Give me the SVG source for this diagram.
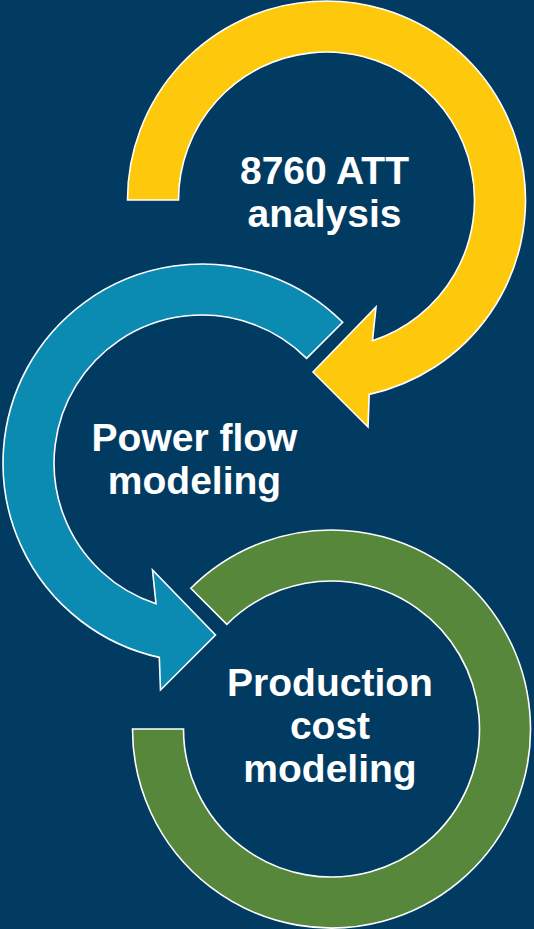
<svg xmlns="http://www.w3.org/2000/svg" width="534" height="929" viewBox="0 0 534 929">
<style>
.arc{stroke:#ffffff;stroke-width:1.6;stroke-linejoin:miter}
.lbl{font-family:"Liberation Sans",Arial,sans-serif;font-weight:bold;font-size:39px;fill:#ffffff;text-anchor:middle}
</style>
<rect width="534" height="929" fill="#023b62"/>
<g id="connectors"></g>
<g id="att">
<path class="arc" fill="#fec90d" d="M127.5 200 A199 199 0 1 1 369.2 394.4 L368 427 L313 372 L376 307 L372.5 340.7 A148 148 0 1 0 178.5 200 Z"/>
<text class="lbl" x="324.5" y="183.5">8760 ATT</text>
<text class="lbl" x="324.5" y="227">analysis</text>
</g>
<g id="powerflow">
<path class="arc" fill="#0b8ab2" d="M342.7 322.3 A199 199 0 1 0 159.3 657.4 L160.5 690 L215.5 635 L152.5 570 L156 603.7 A148 148 0 1 1 306.65 358.35 Z"/>
<text class="lbl" x="194.5" y="451">Power flow</text>
<text class="lbl" x="194.5" y="494">modeling</text>
</g>
<g id="production">
<path class="arc" fill="#57873b" d="M190.8 588.3 A199 199 0 1 1 132.5 729 L183.5 729 A148 148 0 1 0 226.85 624.35 Z"/>
<text class="lbl" x="330" y="696">Production</text>
<text class="lbl" x="330" y="739">cost</text>
<text class="lbl" x="330" y="782">modeling</text>
</g>
</svg>
